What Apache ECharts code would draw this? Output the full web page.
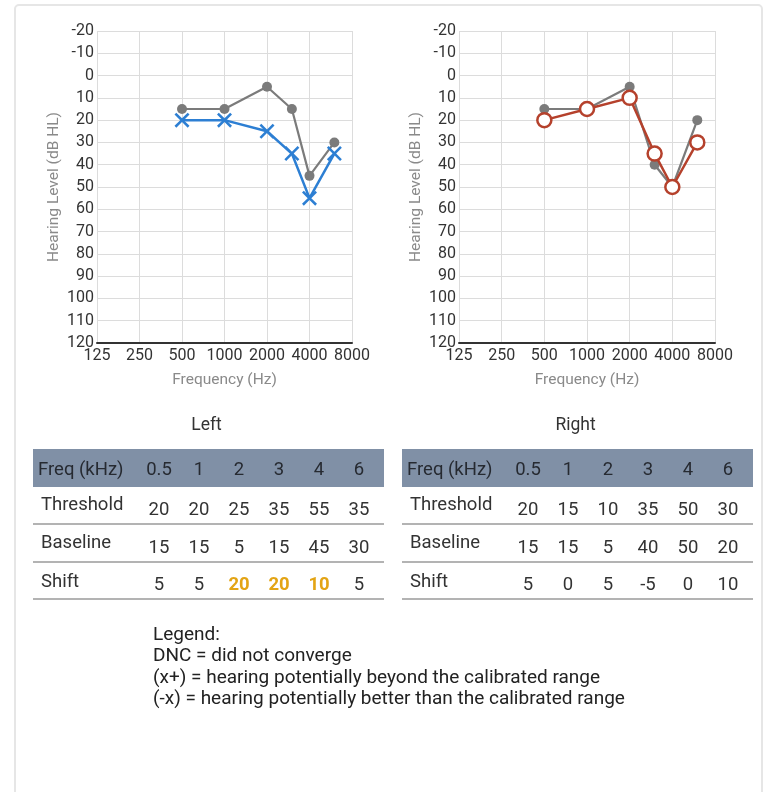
<!DOCTYPE html>
<html>
<head>
<meta charset="utf-8">
<script src="https://cdn.jsdelivr.net/npm/echarts@6/dist/echarts.min.js"></script>
<style>
html,body{margin:0;padding:0;background:#fff;}
#main{width:767px;height:792px;}
</style>
</head>
<body>
<div id="main"></div>
<script>
// ---- data ----
const freqHz = [500, 1000, 2000, 3000, 4000, 6000];
const freqKHzLabels = ['0.5', '1', '2', '3', '4', '6'];
const xTickValues = [125, 250, 500, 1000, 2000, 4000, 8000];
const leftThreshold = [20, 20, 25, 35, 55, 35];
const leftBaseline = [15, 15, 5, 15, 45, 30];
const leftShift = [5, 5, 20, 20, 10, 5];
const leftShiftFlag = [false, false, true, true, true, false];
const rightThreshold = [20, 15, 10, 35, 50, 30];
const rightBaseline = [15, 15, 5, 40, 50, 20];
const rightShift = [5, 0, 5, -5, 0, 10];
const rightShiftFlag = [false, false, false, false, false, false];
const rowLabels = ['Freq (kHz)', 'Threshold', 'Baseline', 'Shift'];
const tableTitles = ['Left', 'Right'];
const yAxisName = 'Hearing Level (dB HL)';
const xAxisName = 'Frequency (Hz)';
const legendLines = [
  'Legend:',
  'DNC = did not converge',
  '(x+) = hearing potentially beyond the calibrated range',
  '(-x) = hearing potentially better than the calibrated range'
];

// ---- styles ----
const FONT = 'Roboto, "Noto Sans", sans-serif';
const TXT = '#333';
const GRAY = '#7b7b7b';
const BLUE = '#2d7fd3';
const RED = '#b5412c';
const CROSS = 'path://M0,1.2L1.2,0L5,3.8L8.8,0L10,1.2L6.2,5L10,8.8L8.8,10L5,6.2L1.2,10L0,8.8L3.8,5Z';
const AX_FS = 16;
const TB_FS = '18.5px ';
const LG_FS = '19px ';

function pairs(vals) { return freqHz.map((f, i) => [f, vals[i]]); }

function xAxis(gi) {
  return {
    type: 'log', logBase: 2, min: 125, max: 8000, gridIndex: gi,
    name: xAxisName, nameLocation: 'middle', nameGap: 29,
    nameTextStyle: { color: '#8a8a8a', fontSize: 15.5, fontFamily: FONT },
    axisLine: { show: true, onZero: false, lineStyle: { color: '#333', width: 2 } },
    axisTick: { show: false, customValues: xTickValues },
    axisLabel: { customValues: xTickValues, color: TXT, fontSize: AX_FS, fontFamily: FONT, margin: 5, formatter: v => String(Math.round(v)) },
    splitLine: { show: true, lineStyle: { color: '#dcdcdc', width: 1 } },
    minorSplitLine: { show: false }
  };
}
function yAxis(gi) {
  return {
    type: 'value', inverse: true, min: -20, max: 120, interval: 10, gridIndex: gi,
    name: yAxisName, nameLocation: 'middle', nameGap: 35,
    nameTextStyle: { color: '#8a8a8a', fontSize: 15.5, fontFamily: FONT },
    axisLine: { show: false }, axisTick: { show: false },
    axisLabel: { color: TXT, fontSize: AX_FS, fontFamily: FONT, margin: 3 },
    splitLine: { show: true, lineStyle: { color: '#dcdcdc', width: 1 } }
  };
}

// ---- table graphics ----
function tableGraphics(x0, ti, thr, base, shift, flag) {
  const els = [];
  const w = 351;
  els.push({ type: 'text', x: x0 + w / 2 - 2, y: 426, style: { text: tableTitles[ti], font: '17.5px ' + FONT, fill: TXT, align: 'center', verticalAlign: 'middle' } });
  els.push({ type: 'rect', shape: { x: x0, y: 449, width: w, height: 38 }, style: { fill: '#8090a6' } });
  els.push({ type: 'text', x: x0 + 5, y: 470, style: { text: rowLabels[0], font: TB_FS + FONT, fill: '#262a31', verticalAlign: 'middle' } });
  freqKHzLabels.forEach((l, i) => {
    els.push({ type: 'text', x: x0 + 126 + 40 * i, y: 470, style: { text: l, font: TB_FS + FONT, fill: '#262a31', align: 'center', verticalAlign: 'middle' } });
  });
  const rows = [thr, base, shift];
  const labelY = [505, 543, 582];
  const valY = [510, 548, 585];
  const lineY = [524, 562, 599];
  rows.forEach((r, ri) => {
    els.push({ type: 'text', x: x0 + 8, y: labelY[ri], style: { text: rowLabels[ri + 1], font: TB_FS + FONT, fill: TXT, verticalAlign: 'middle' } });
    r.forEach((v, i) => {
      const hl = ri === 2 && flag[i];
      els.push({ type: 'text', x: x0 + 126 + 40 * i, y: valY[ri], style: { text: String(v), font: (hl ? 'bold ' : '') + TB_FS + FONT, fill: hl ? '#e3a414' : TXT, align: 'center', verticalAlign: 'middle' } });
    });
    els.push({ type: 'line', shape: { x1: x0, y1: lineY[ri], x2: x0 + w, y2: lineY[ri] }, style: { stroke: '#9a9a9a', lineWidth: 1.5 } });
  });
  return els;
}

const graphics = [
  { type: 'rect', z: -1, shape: { x: 15, y: 5, width: 747, height: 800, r: 4 }, style: { fill: 'none', stroke: '#e6e6e6', lineWidth: 2 } }
].concat(tableGraphics(33, 0, leftThreshold, leftBaseline, leftShift, leftShiftFlag))
 .concat(tableGraphics(402, 1, rightThreshold, rightBaseline, rightShift, rightShiftFlag));

legendLines.forEach((t, i) => {
  graphics.push({ type: 'text', x: 153, y: 635 + 21.5 * i, style: { text: t, font: LG_FS + FONT, fill: '#222', verticalAlign: 'middle' } });
});

const chart = echarts.init(document.getElementById('main'), null, { renderer: 'canvas' });
chart.setOption({
  animation: false,
  backgroundColor: '#fff',
  grid: [
    { left: 97, top: 31, width: 255, height: 312 },
    { left: 459, top: 31, width: 256, height: 312 }
  ],
  xAxis: [xAxis(0), xAxis(1)],
  yAxis: [yAxis(0), yAxis(1)],
  series: [
    { name: 'Left Baseline', type: 'line', xAxisIndex: 0, yAxisIndex: 0, data: pairs(leftBaseline), symbol: 'circle', symbolSize: 10, lineStyle: { color: GRAY, width: 2.2 }, itemStyle: { color: GRAY }, z: 2 },
    { name: 'Left Threshold', type: 'line', xAxisIndex: 0, yAxisIndex: 0, data: pairs(leftThreshold), symbol: CROSS, symbolSize: 15, lineStyle: { color: BLUE, width: 2.5 }, itemStyle: { color: BLUE }, z: 3 },
    { name: 'Right Baseline', type: 'line', xAxisIndex: 1, yAxisIndex: 1, data: pairs(rightBaseline), symbol: 'circle', symbolSize: 10, lineStyle: { color: GRAY, width: 2.2 }, itemStyle: { color: GRAY }, z: 2 },
    { name: 'Right Threshold', type: 'line', xAxisIndex: 1, yAxisIndex: 1, data: pairs(rightThreshold), symbol: 'circle', symbolSize: 14, lineStyle: { color: RED, width: 2.5 }, itemStyle: { color: '#fff', borderColor: RED, borderWidth: 2.5 }, z: 3 }
  ],
  graphic: graphics
});
</script>
</body>
</html>
